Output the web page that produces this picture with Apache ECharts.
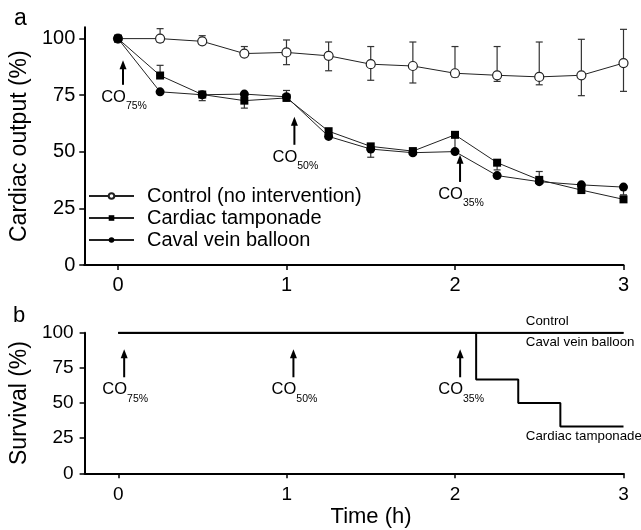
<!DOCTYPE html>
<html>
<head>
<meta charset="utf-8">
<script src="https://cdn.jsdelivr.net/npm/echarts@6/dist/echarts.min.js"></script>
<style>
html, body { margin: 0; padding: 0; background: #fff; }
#main { width: 641px; height: 530px; }
</style>
</head>
<body>
<div id="main"></div>
<script>
// time points (h)
var timePoints = [0, 0.25, 0.5, 0.75, 1, 1.25, 1.5, 1.75, 2, 2.25, 2.5, 2.75, 3];

// cardiac output (%) per group, with error bar ends
var control      = [100, 100, 98.8, 93.4, 93.9, 92.4, 88.7, 87.9, 84.7, 83.8, 83.1, 83.8, 89.2];
var controlLow   = [100, 98.5, 97.5, 92.5, 88.5, 85.8, 81.6, 80.4, 83.1, 81.1, 79.6, 74.8, 76.7];
var controlHigh  = [100, 104.4, 101.3, 96.5, 99.4, 98.5, 96.5, 98.5, 96.5, 96.5, 98.5, 99.7, 104.1];

var tamponade     = [100, 83.7, 75.3, 72.6, 73.8, 59.1, 52.4, 50.3, 57.5, 45.2, 37.6, 33.1, 29.0];
var tamponadeLow  = [100, 83.7, 75.3, 69.3, 73.8, 59.1, 52.4, 50.3, 51.0, 42.0, 37.6, 33.1, 29.0];
var tamponadeHigh = [100, 88.2, 75.3, 72.6, 77.1, 59.1, 52.4, 51.6, 57.5, 45.2, 41.3, 33.1, 29.0];

var balloon     = [100, 76.5, 75.2, 75.5, 74.3, 56.8, 51.2, 49.6, 50.1, 39.5, 36.8, 35.4, 34.4];
var balloonLow  = [100, 76.5, 72.6, 75.5, 74.3, 56.8, 47.6, 49.6, 50.1, 39.5, 36.8, 35.4, 31.0];
var balloonHigh = [100, 76.5, 75.2, 75.5, 74.3, 56.8, 51.2, 49.6, 50.1, 39.5, 36.8, 35.4, 34.4];

// survival (%)
var survTimeTamponade = [0, 2.125, 2.375, 2.625, 3];
var survTamponade     = [100, 66.7, 50, 33.3, 33.3];
var survTimeOthers    = [0, 3];
var survControl       = [100, 100];
var survBalloon       = [100, 100];

// ticks
var xTicks = [0, 1, 2, 3];
var yTicks = [0, 25, 50, 75, 100];

var FONT = 'Liberation Sans, Arial, Helvetica, sans-serif';

function pairs(xs, ys) {
    return xs.map(function (x, i) { return [x, ys[i]]; });
}

function errorSeries(name, low, high) {
    return {
        name: name,
        type: 'custom',
        xAxisIndex: 0,
        yAxisIndex: 0,
        silent: true,
        z: 1,
        data: timePoints.map(function (t, i) { return [t, low[i], high[i]]; }),
        encode: { x: 0, y: [1, 2] },
        renderItem: function (params, api) {
            var lo = api.value(1), hi = api.value(2);
            if (hi - lo < 0.05) return null;
            var a = api.coord([api.value(0), hi]);
            var b = api.coord([api.value(0), lo]);
            var w = 3.5;
            var st = { stroke: '#333', lineWidth: 1.2 };
            return {
                type: 'group',
                children: [
                    { type: 'line', shape: { x1: a[0], y1: a[1], x2: b[0], y2: b[1] }, style: st },
                    { type: 'line', shape: { x1: a[0] - w, y1: a[1], x2: a[0] + w, y2: a[1] }, style: st },
                    { type: 'line', shape: { x1: b[0] - w, y1: b[1], x2: b[0] + w, y2: b[1] }, style: st }
                ]
            };
        }
    };
}

var axisLineStyle = { show: true, onZero: false, lineStyle: { color: '#000', width: 2 } };
var tickStyle = { show: true, length: 5, lineStyle: { color: '#000', width: 1.5 } };

var chart = echarts.init(document.getElementById('main'));

var option = {
    animation: false,
    textStyle: { fontFamily: FONT, color: '#000' },
    grid: [
        { left: 79.5, top: 27.3, width: 544, height: 237.7 },
        { left: 79.5, top: 332.7, width: 544, height: 140.6 }
    ],
    xAxis: [{
        gridIndex: 0,
        type: 'value',
        min: -0.2,
        max: 3,
        axisLine: axisLineStyle,
        axisTick: { show: true, length: 5, lineStyle: { color: '#000', width: 1.5 }, customValues: xTicks },
        axisLabel: { customValues: xTicks, fontSize: 20, color: '#000', margin: 10, fontFamily: FONT },
        splitLine: { show: false }
    }, {
        gridIndex: 1,
        type: 'value',
        min: -0.2,
        max: 3,
        name: 'Time (h)',
        nameLocation: 'middle',
        nameGap: 33,
        nameTextStyle: { fontSize: 22, color: '#000', fontFamily: FONT, padding: [0, 0, 0, 34] },
        axisLine: axisLineStyle,
        axisTick: { show: true, length: 5, lineStyle: { color: '#000', width: 1.5 }, customValues: xTicks },
        axisLabel: { customValues: xTicks, fontSize: 19, color: '#000', margin: 12, fontFamily: FONT },
        splitLine: { show: false }
    }],
    yAxis: [{
        gridIndex: 0,
        type: 'value',
        min: 0,
        max: 105,
        name: 'Cardiac output (%)',
        nameLocation: 'middle',
        nameGap: 45,
        nameTextStyle: { fontSize: 23, color: '#000', fontFamily: FONT },
        axisLine: axisLineStyle,
        axisTick: { show: true, length: 5, lineStyle: { color: '#000', width: 1.5 }, customValues: yTicks },
        axisLabel: { customValues: yTicks, fontSize: 20, color: '#000', margin: 9, fontFamily: FONT },
        splitLine: { show: false }
    }, {
        gridIndex: 1,
        type: 'value',
        min: 0,
        max: 100,
        interval: 25,
        name: 'Survival (%)',
        nameLocation: 'middle',
        nameGap: 45,
        nameTextStyle: { fontSize: 23, color: '#000', fontFamily: FONT },
        axisLine: axisLineStyle,
        axisTick: tickStyle,
        axisLabel: { fontSize: 19, color: '#000', margin: 11, fontFamily: FONT },
        splitLine: { show: false }
    }],
    legend: {
        orient: 'vertical',
        left: 88,
        top: 186,
        padding: 0,
        itemWidth: 45,
        itemHeight: 7,
        itemGap: 2,
        data: ['Control (no intervention)', 'Cardiac tamponade', 'Caval vein balloon'],
        textStyle: { fontSize: 20, lineHeight: 20, color: '#000', fontFamily: FONT, padding: [0, 0, 0, 8] }
    },
    series: [
        errorSeries('errControl', controlLow, controlHigh),
        errorSeries('errTamponade', tamponadeLow, tamponadeHigh),
        errorSeries('errBalloon', balloonLow, balloonHigh),
        {
            name: 'Control (no intervention)',
            type: 'line',
            xAxisIndex: 0, yAxisIndex: 0,
            data: pairs(timePoints, control),
            symbol: 'circle',
            symbolSize: 9,
            lineStyle: { color: '#222', width: 1 },
            itemStyle: { color: '#fff', borderColor: '#222', borderWidth: 1.2 },
            z: 2
        },
        {
            name: 'Cardiac tamponade',
            type: 'line',
            xAxisIndex: 0, yAxisIndex: 0,
            data: pairs(timePoints, tamponade),
            symbol: 'rect',
            symbolSize: 8,
            lineStyle: { color: '#222', width: 1 },
            itemStyle: { color: '#000', borderColor: '#000', borderWidth: 0 },
            z: 3
        },
        {
            name: 'Caval vein balloon',
            type: 'line',
            xAxisIndex: 0, yAxisIndex: 0,
            data: pairs(timePoints, balloon),
            symbol: 'circle',
            symbolSize: 9,
            lineStyle: { color: '#222', width: 1 },
            itemStyle: { color: '#000', borderColor: '#000', borderWidth: 0 },
            z: 4
        },
        {
            name: 'survTamponade',
            type: 'line',
            xAxisIndex: 1, yAxisIndex: 1,
            step: 'end',
            data: pairs(survTimeTamponade, survTamponade),
            symbol: 'none',
            lineStyle: { color: '#000', width: 2 }
        },
        {
            name: 'survBalloon',
            type: 'line',
            xAxisIndex: 1, yAxisIndex: 1,
            data: pairs(survTimeOthers, survBalloon),
            symbol: 'none',
            lineStyle: { color: '#000', width: 2 }
        },
        {
            name: 'survControl',
            type: 'line',
            xAxisIndex: 1, yAxisIndex: 1,
            data: pairs(survTimeOthers, survControl),
            symbol: 'none',
            lineStyle: { color: '#000', width: 2 }
        }
    ]
};

chart.setOption(option);

// annotations: arrows with CO labels, panel letters, survival group labels
var arrowsA = [
    { x: 0.03, top: 90.4, bottom: 79.6, sub: '75%' },
    { x: 1.047, top: 65.5, bottom: 53.1, sub: '50%' },
    { x: 2.03, top: 48.7, bottom: 36.7, sub: '35%' }
];
var arrowsB = [
    { x: 0.035, top: 88.2, bottom: 68.3, sub: '75%' },
    { x: 1.04, top: 88.2, bottom: 68.3, sub: '50%' },
    { x: 2.03, top: 88.2, bottom: 68.3, sub: '35%' }
];

var graphics = [];
function addArrow(gridIndex, a) {
    var p1 = chart.convertToPixel({ gridIndex: gridIndex }, [a.x, a.top]);
    var p2 = chart.convertToPixel({ gridIndex: gridIndex }, [a.x, a.bottom]);
    graphics.push({ type: 'line', shape: { x1: p1[0], y1: p1[1] + 5, x2: p2[0], y2: p2[1] }, style: { stroke: '#000', lineWidth: 2 } });
    graphics.push({ type: 'polygon', shape: { points: [[p1[0], p1[1]], [p1[0] - 3.5, p1[1] + 9], [p1[0] + 3.5, p1[1] + 9]] }, style: { fill: '#000' } });
    graphics.push({
        type: 'text',
        x: p2[0] + 1,
        y: p2[1] + 4,
        style: {
            text: '{a|CO}{b|' + a.sub + '}',
            align: 'center',
            verticalAlign: 'top',
            fill: '#000',
            rich: {
                a: { fontSize: 16.5, fontFamily: FONT, verticalAlign: 'bottom', padding: [0, 0, 6, 0] },
                b: { fontSize: 10.5, fontFamily: FONT, verticalAlign: 'bottom' }
            }
        }
    });
}
arrowsA.forEach(function (a) { addArrow(0, a); });
arrowsB.forEach(function (a) { addArrow(1, a); });

graphics.push({ type: 'text', left: 14, top: 7, style: { text: 'a', fontSize: 23, fontFamily: FONT, fill: '#000' } });
graphics.push({ type: 'text', left: 13, top: 305, style: { text: 'b', fontSize: 22, fontFamily: FONT, fill: '#000' } });

var groupLabels = [
    { text: 'Control', x: 2.42, y: 100, dy: -11 },
    { text: 'Caval vein balloon', x: 2.42, y: 100, dy: 10 },
    { text: 'Cardiac tamponade', x: 2.42, y: 33.3, dy: 10 }
];
groupLabels.forEach(function (l) {
    var p = chart.convertToPixel({ gridIndex: 1 }, [l.x, l.y]);
    graphics.push({
        type: 'text',
        x: p[0],
        y: p[1] + l.dy,
        style: { text: l.text, fontSize: 13.3, fontFamily: FONT, fill: '#000', align: 'left', verticalAlign: 'middle' }
    });
});

chart.setOption({ graphic: graphics });
</script>
</body>
</html>
